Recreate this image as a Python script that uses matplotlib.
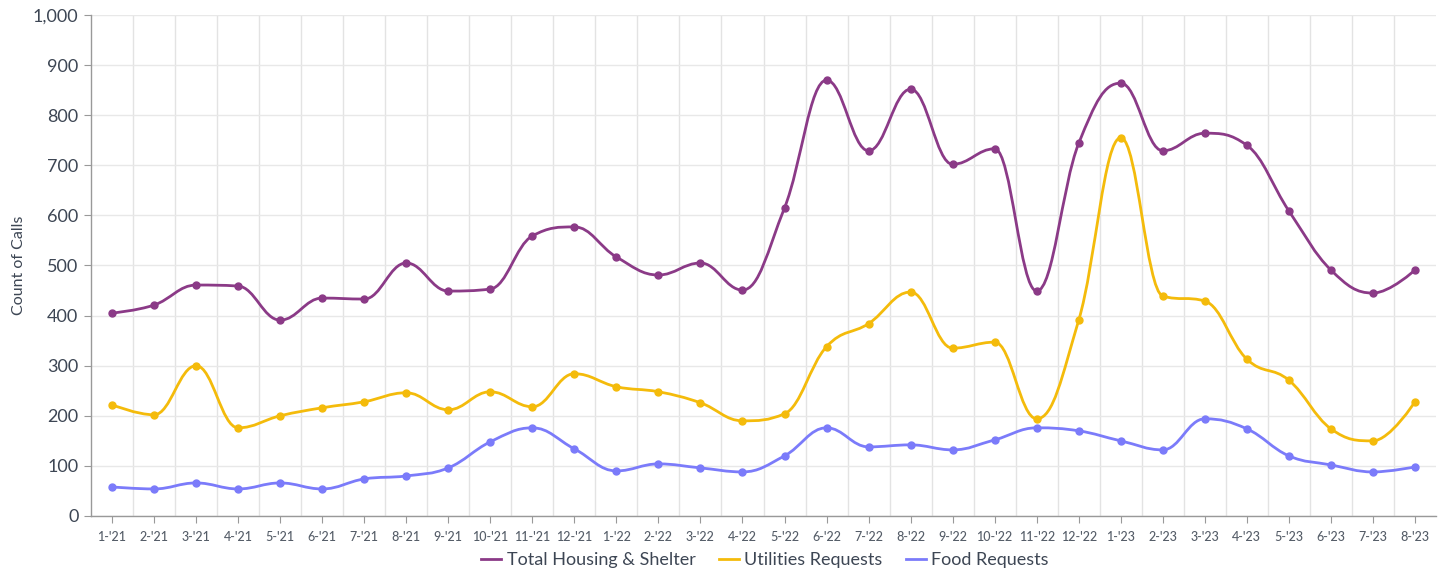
import matplotlib.pyplot as plt
import numpy as np
from matplotlib.path import Path
from matplotlib.patches import PathPatch
from matplotlib.lines import Line2D
from matplotlib.ticker import FuncFormatter

plt.rcParams['font.family'] = ['Lato', 'DejaVu Sans']

months = ["1-'21", "2-'21", "3-'21", "4-'21", "5-'21", "6-'21", "7-'21", "8-'21",
          "9-'21", "10-'21", "11-'21", "12-'21", "1-'22", "2-'22", "3-'22", "4-'22",
          "5-'22", "6-'22", "7-'22", "8-'22", "9-'22", "10-'22", "11-'22", "12-'22",
          "1-'23", "2-'23", "3-'23", "4-'23", "5-'23", "6-'23", "7-'23", "8-'23"]

housing = [405, 421, 461, 459, 391, 435, 433, 505, 449, 453, 559, 577,
           517, 481, 505, 451, 615, 870, 729, 852, 702, 733, 449, 744,
           864, 729, 764, 740, 609, 491, 445, 491]
utilities = [222, 202, 300, 176, 200, 216, 228, 246, 212, 248, 218, 284,
             258, 248, 226, 190, 204, 338, 384, 447, 335, 347, 194, 391,
             755, 439, 429, 313, 271, 174, 150, 228]
food = [58, 54, 66, 54, 66, 54, 74, 80, 96, 148, 176, 134,
        90, 104, 96, 88, 120, 176, 138, 142, 132, 152, 176, 170,
        150, 132, 194, 174, 120, 102, 88, 98]

series_names = ['Total Housing & Shelter', 'Utilities Requests', 'Food Requests']
colors = ['#8b3a87', '#f4bb0b', '#7b7bfa']


def spline_path(xs, ys, smoothing=1.5):
    # highcharts style spline control points
    n = len(xs)
    denom = smoothing + 1
    left = [(xs[i], ys[i]) for i in range(n)]
    right = [(xs[i], ys[i]) for i in range(n)]
    for i in range(1, n - 1):
        x, y = xs[i], ys[i]
        lx, ly = xs[i - 1], ys[i - 1]
        nx, ny = xs[i + 1], ys[i + 1]
        lcx = (smoothing * x + lx) / denom
        lcy = (smoothing * y + ly) / denom
        rcx = (smoothing * x + nx) / denom
        rcy = (smoothing * y + ny) / denom
        if rcx != lcx:
            corr = ((rcy - lcy) * (rcx - x)) / (rcx - lcx) + y - rcy
            lcy += corr
            rcy += corr
            if lcy > ly and lcy > y:
                lcy = max(ly, y)
                rcy = 2 * y - lcy
            elif lcy < ly and lcy < y:
                lcy = min(ly, y)
                rcy = 2 * y - lcy
            if rcy > ny and rcy > y:
                rcy = max(ny, y)
                lcy = 2 * y - rcy
            elif rcy < ny and rcy < y:
                rcy = min(ny, y)
                lcy = 2 * y - rcy
        left[i] = (lcx, lcy)
        right[i] = (rcx, rcy)
    verts = [(xs[0], ys[0])]
    codes = [Path.MOVETO]
    for i in range(1, n):
        verts += [right[i - 1], left[i], (xs[i], ys[i])]
        codes += [Path.CURVE4] * 3
    return Path(verts, codes)


fig = plt.figure(figsize=(14.44, 5.74), dpi=100)
ax = fig.add_axes([91 / 1444, 58 / 574, 1345 / 1444, 501 / 574])

x = np.arange(len(months))
for vals, c in zip([housing, utilities, food], colors):
    p = spline_path(list(x), vals)
    ax.add_patch(PathPatch(p, facecolor='none', edgecolor=c, lw=2.0, zorder=3))
    ax.plot(x, vals, 'o', color=c, ms=5, zorder=4)

ax.set_xlim(-0.5, len(months) - 0.5)
ax.set_ylim(0, 1000)
ax.set_yticks(range(0, 1001, 100))
ax.yaxis.set_major_formatter(FuncFormatter(lambda v, p: f'{int(v):,}'))
ax.set_xticks(x)
ax.set_xticklabels(months, fontsize=9, color='#555d68', fontweight='medium')
ax.set_xticks(np.arange(0.5, len(months) - 0.5, 1), minor=True)
ax.tick_params(axis='x', which='major', length=5, color='#999999', pad=6)
ax.tick_params(axis='x', which='minor', length=0)
ax.tick_params(axis='y', labelsize=13, labelcolor='#3d4654', length=5, color='#999999', pad=4)

ax.grid(axis='y', color='#e8e8e8', lw=1)
ax.grid(axis='x', which='minor', color='#e3e3e3', lw=1)
ax.set_axisbelow(True)
for s in ['top', 'right']:
    ax.spines[s].set_visible(False)
for s in ['left', 'bottom']:
    ax.spines[s].set_color('#999999')
    ax.spines[s].set_linewidth(1)

ax.set_ylabel('Count of Calls', fontsize=11.5, color='#3d4654', labelpad=5)

handles = [Line2D([0], [0], color=c, lw=2) for c in colors]
fig.legend(handles, series_names, loc='center', bbox_to_anchor=(765 / 1444, 1 - 560 / 574),
           ncol=3, frameon=False, fontsize=13, handlelength=1.1, handletextpad=0.3,
           columnspacing=1.3, labelcolor='#3d4654')

fig.savefig('out.png', dpi=100)
